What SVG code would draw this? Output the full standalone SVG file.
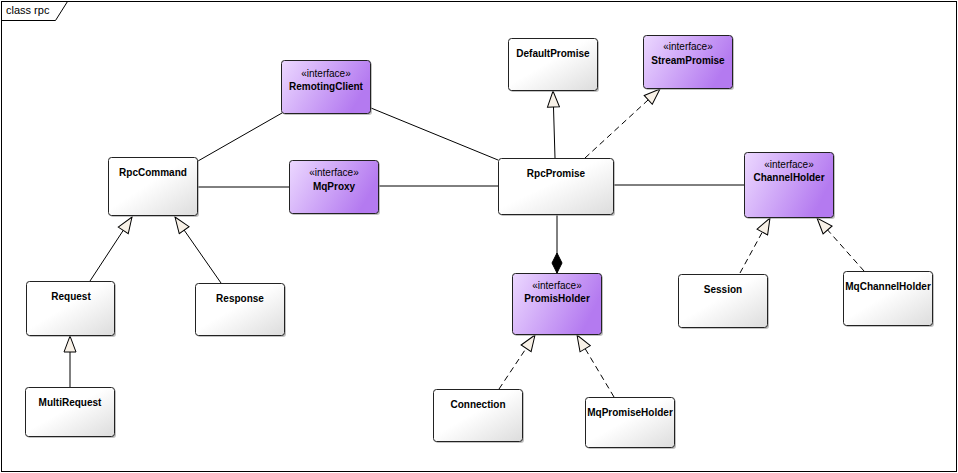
<svg xmlns="http://www.w3.org/2000/svg" width="958" height="473" viewBox="0 0 958 473">
<defs>
<linearGradient id="gCls" x1="0" y1="0" x2="1" y2="1">
<stop offset="0" stop-color="#ffffff"/>
<stop offset="0.45" stop-color="#ffffff"/>
<stop offset="1" stop-color="#dcdcdc"/>
</linearGradient>
<linearGradient id="gInt" x1="0" y1="0" x2="1" y2="0.35">
<stop offset="0" stop-color="#ecd8ff"/>
<stop offset="1" stop-color="#b47af0"/>
</linearGradient>
<marker id="gen" markerWidth="18" markerHeight="14" viewBox="0 0 18 14" refX="17" refY="7" orient="auto" markerUnits="userSpaceOnUse">
<path d="M1,1 L17,7 L1,13 Z" fill="#f8f1e7" stroke="#000" stroke-width="1"/>
</marker>
<marker id="comp" markerWidth="22" markerHeight="12" viewBox="0 0 22 12" refX="21" refY="6" orient="auto" markerUnits="userSpaceOnUse">
<path d="M1,6 L11,1 L21,6 L11,11 Z" fill="#000" stroke="#000" stroke-width="1"/>
</marker>
</defs>
<style>
.frame{fill:#fff;stroke:#000;stroke-width:1}
.cls{fill:url(#gCls);stroke:#222;stroke-width:1}
.int{fill:url(#gInt);stroke:#222;stroke-width:1}
.sh{fill:#9a9a9a;opacity:0.6}
.t{font-family:"Liberation Sans",Arial,sans-serif;font-size:10px;font-weight:bold;fill:#000;text-anchor:middle}
.st{font-family:"Liberation Sans",Arial,sans-serif;font-size:10px;fill:#000;text-anchor:middle}
.ft{font-family:"Liberation Sans",Arial,sans-serif;font-size:11px;fill:#000}
.ln{fill:none;stroke:#000;stroke-width:1}
.dash{stroke-dasharray:6,4}
</style>
<rect width="958" height="473" fill="#fff"/>
<g id="frame">
<rect class="frame" x="1.5" y="1.5" width="955" height="470"/>
<path d="M1.5,20.5 L55.5,20.5 L67.5,1.5" fill="none" stroke="#000" stroke-width="1"/>
<text class="ft" x="6" y="14">class rpc</text>
</g>
<g id="connectors">
<line class="ln" x1="198" y1="161" x2="282" y2="113"/>
<line class="ln" x1="371" y1="108" x2="498" y2="160"/>
<line class="ln" x1="198" y1="187" x2="289" y2="187"/>
<line class="ln" x1="379" y1="186" x2="498" y2="186"/>
<line class="ln" x1="613" y1="185" x2="744" y2="185"/>
<line class="ln" x1="555" y1="158" x2="553" y2="91" marker-end="url(#gen)"/>
<line class="ln dash" x1="585" y1="158" x2="660" y2="89" marker-end="url(#gen)"/>
<line class="ln" x1="557" y1="214" x2="557" y2="273" marker-end="url(#comp)"/>
<line class="ln dash" x1="499" y1="389" x2="535" y2="335" marker-end="url(#gen)"/>
<line class="ln dash" x1="614" y1="397" x2="577" y2="335" marker-end="url(#gen)"/>
<line class="ln dash" x1="740" y1="273" x2="770" y2="218" marker-end="url(#gen)"/>
<line class="ln dash" x1="864" y1="271" x2="817" y2="218" marker-end="url(#gen)"/>
<line class="ln" x1="90" y1="281" x2="132" y2="217" marker-end="url(#gen)"/>
<line class="ln" x1="221" y1="283" x2="175" y2="217" marker-end="url(#gen)"/>
<line class="ln" x1="70" y1="387" x2="70" y2="336" marker-end="url(#gen)"/>
</g>
<g id="RpcCommand">
<rect class="sh" x="110" y="159" width="89" height="58" rx="3"/>
<rect class="cls" x="108.5" y="157.5" width="89" height="58" rx="3"/>
<text class="t" x="153" y="176">RpcCommand</text>
</g>
<g id="RemotingClient">
<rect class="sh" x="283" y="62" width="89" height="53" rx="3"/>
<rect class="int" x="281.5" y="60.5" width="89" height="53" rx="3"/>
<text class="st" x="326" y="77">«interface»</text>
<text class="t" x="326" y="90">RemotingClient</text>
</g>
<g id="MqProxy">
<rect class="sh" x="291" y="162" width="89" height="53" rx="3"/>
<rect class="int" x="289.5" y="160.5" width="89" height="53" rx="3"/>
<text class="st" x="334" y="176">«interface»</text>
<text class="t" x="334" y="190">MqProxy</text>
</g>
<g id="DefaultPromise">
<rect class="sh" x="510" y="40" width="89" height="52" rx="3"/>
<rect class="cls" x="508.5" y="38.5" width="89" height="52" rx="3"/>
<text class="t" x="553" y="57">DefaultPromise</text>
</g>
<g id="StreamPromise">
<rect class="sh" x="645" y="37" width="89" height="53" rx="3"/>
<rect class="int" x="643.5" y="35.5" width="89" height="53" rx="3"/>
<text class="st" x="688" y="50">«interface»</text>
<text class="t" x="688" y="64">StreamPromise</text>
</g>
<g id="RpcPromise">
<rect class="sh" x="500" y="160" width="115" height="56" rx="3"/>
<rect class="cls" x="498.5" y="158.5" width="115" height="56" rx="3"/>
<text class="t" x="556" y="177">RpcPromise</text>
</g>
<g id="ChannelHolder">
<rect class="sh" x="746" y="154" width="89" height="65" rx="3"/>
<rect class="int" x="744.5" y="152.5" width="89" height="65" rx="3"/>
<text class="st" x="789" y="168">«interface»</text>
<text class="t" x="789" y="181">ChannelHolder</text>
</g>
<g id="PromisHolder">
<rect class="sh" x="514" y="275" width="89" height="61" rx="3"/>
<rect class="int" x="512.5" y="273.5" width="89" height="61" rx="3"/>
<text class="st" x="557" y="289">«interface»</text>
<text class="t" x="557" y="302">PromisHolder</text>
</g>
<g id="Request">
<rect class="sh" x="28" y="283" width="88" height="54" rx="3"/>
<rect class="cls" x="26.5" y="281.5" width="88" height="54" rx="3"/>
<text class="t" x="71" y="300">Request</text>
</g>
<g id="Response">
<rect class="sh" x="197" y="285" width="89" height="52" rx="3"/>
<rect class="cls" x="195.5" y="283.5" width="89" height="52" rx="3"/>
<text class="t" x="240" y="302">Response</text>
</g>
<g id="MultiRequest">
<rect class="sh" x="27" y="389" width="89" height="49" rx="3"/>
<rect class="cls" x="25.5" y="387.5" width="89" height="49" rx="3"/>
<text class="t" x="70" y="406">MultiRequest</text>
</g>
<g id="Connection">
<rect class="sh" x="435" y="391" width="89" height="52" rx="3"/>
<rect class="cls" x="433.5" y="389.5" width="89" height="52" rx="3"/>
<text class="t" x="478" y="408">Connection</text>
</g>
<g id="MqPromiseHolder">
<rect class="sh" x="587" y="399" width="89" height="50" rx="3"/>
<rect class="cls" x="585.5" y="397.5" width="89" height="50" rx="3"/>
<text class="t" x="630" y="416">MqPromiseHolder</text>
</g>
<g id="Session">
<rect class="sh" x="680" y="276" width="89" height="53" rx="3"/>
<rect class="cls" x="678.5" y="274.5" width="89" height="53" rx="3"/>
<text class="t" x="723" y="293">Session</text>
</g>
<g id="MqChannelHolder">
<rect class="sh" x="845" y="273" width="89" height="54" rx="3"/>
<rect class="cls" x="843.5" y="271.5" width="89" height="54" rx="3"/>
<text class="t" x="888" y="290">MqChannelHolder</text>
</g>
</svg>
